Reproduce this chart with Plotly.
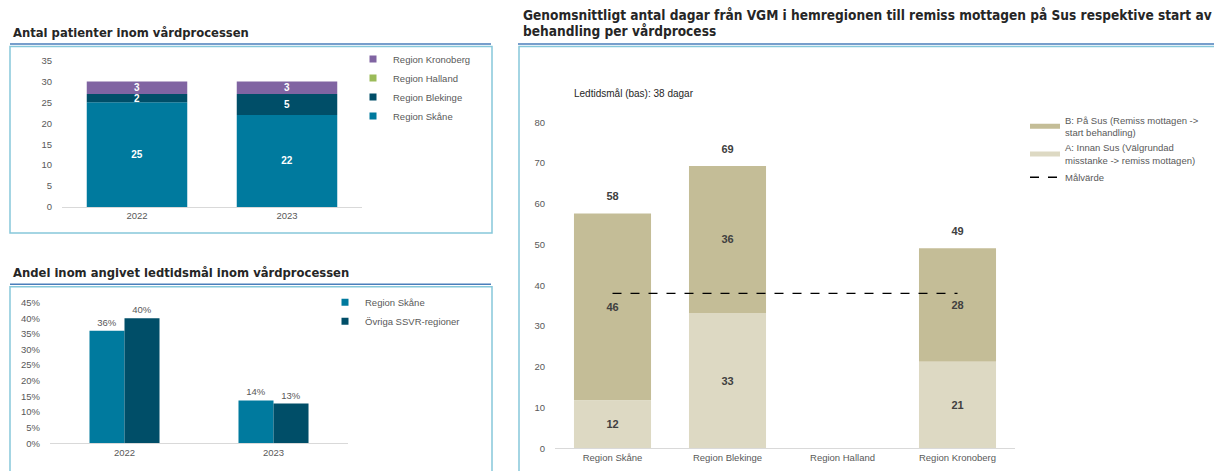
import plotly.graph_objects as go

# ---------------- data ----------------
years = ["2022", "2023"]
pat_skane = [25, 22]
pat_blekinge = [2, 5]
pat_halland = [0, 0]
pat_kronoberg = [3, 3]

share_skane = [0.36, 0.137]
share_ovriga = [0.40, 0.127]

regions = ["Region Skåne", "Region Blekinge", "Region Halland", "Region Kronoberg"]
days_a = [11.7, 33.2, None, 21.2]   # A: Innan Sus
days_b = [45.9, 36.1, None, 27.9]   # B: På Sus
target_days = 38

W, H = 1214, 471
# screen-pixel -> paper helpers (vertical term corrects the viewer's small squeeze)
def px(x): return x / W
def py(y): return 1 - ((y - 4.3) / 0.98) / H

C_SKANE = "#007A9E"
C_BLEK = "#004E68"
C_HALL = "#9BBB59"
C_KRON = "#8064A2"
C_B = "#C4BD97"
C_A = "#DDD9C3"
BOX = "#86C8DA"
ULINE = "#4A7EBB"
TICK = "#595959"
FONT = "Liberation Sans, Arial, sans-serif"
TFONT = "DejaVu Sans, Verdana, sans-serif"
NFONT = "Liberation Sans Narrow, DejaVu Sans Condensed, sans-serif"

fig = go.Figure()

def legend_square(name, color, legend):
    fig.add_trace(go.Scatter(x=[None], y=[None], mode="markers", name=name,
                             marker=dict(symbol="square", size=7, color=color),
                             legend=legend, hoverinfo="skip"))

# ---------- chart 1: stacked patients ----------
stack_series = [("Region Skåne", pat_skane, C_SKANE),
                ("Region Blekinge", pat_blekinge, C_BLEK),
                ("Region Halland", pat_halland, C_HALL),
                ("Region Kronoberg", pat_kronoberg, C_KRON)]
base = [0] * len(years)
for name, vals, col in stack_series:
    fig.add_trace(go.Bar(
        x=years, y=vals, base=list(base), name=name, marker_color=col,
        marker_line_width=0, width=0.67, offset=-0.335,
        text=[str(v) if v else "" for v in vals], textposition="inside",
        insidetextanchor="middle", constraintext="none", textangle=0,
        textfont=dict(family=FONT, size=10, color="white", weight="bold"),
        xaxis="x", yaxis="y", showlegend=False, hoverinfo="skip"))
    base = [b + v for b, v in zip(base, vals)]
for name, vals, col in reversed(stack_series):
    legend_square(name, col, "legend")

# ---------- chart 2: grouped share ----------
fig.add_trace(go.Bar(
    x=years, y=share_skane, name="Region Skåne", marker_color=C_SKANE,
    marker_line_width=0, width=0.235, offset=-0.235,
    texttemplate="%{y:.0%}", textposition="outside", cliponaxis=False, textangle=0,
    textfont=dict(family=FONT, size=9.5, color=TICK),
    xaxis="x2", yaxis="y2", showlegend=False, hoverinfo="skip"))
fig.add_trace(go.Bar(
    x=years, y=share_ovriga, name="Övriga SSVR-regioner", marker_color=C_BLEK,
    marker_line_width=0, width=0.235, offset=0,
    texttemplate="%{y:.0%}", textposition="outside", cliponaxis=False, textangle=0,
    textfont=dict(family=FONT, size=9.5, color=TICK),
    xaxis="x2", yaxis="y2", showlegend=False, hoverinfo="skip"))
legend_square("Region Skåne", C_SKANE, "legend2")
legend_square("Övriga SSVR-regioner", C_BLEK, "legend2")

# ---------- chart 3: stacked days ----------
lab = lambda arr: ["" if v is None else f"{v:.0f}" for v in arr]
name_b = "B: På Sus (Remiss mottagen -><br>start behandling)"
name_a = "A: Innan Sus (Välgrundad<br>misstanke -> remiss mottagen)"
fig.add_trace(go.Bar(
    x=regions, y=days_b, base=days_a, name=name_b,
    marker_color=C_B, marker_line_width=0, width=0.67, offset=-0.335,
    text=lab(days_b), textposition="inside", insidetextanchor="middle",
    constraintext="none", textangle=0,
    textfont=dict(family=FONT, size=11, color="#404040", weight="bold"),
    xaxis="x3", yaxis="y3", showlegend=False, hoverinfo="skip"))
fig.add_trace(go.Bar(
    x=regions, y=days_a, name=name_a,
    marker_color=C_A, marker_line_width=0, width=0.67, offset=-0.335,
    text=lab(days_a), textposition="inside", insidetextanchor="middle",
    constraintext="none", textangle=0,
    textfont=dict(family=FONT, size=11, color="#404040", weight="bold"),
    xaxis="x3", yaxis="y3", showlegend=False, hoverinfo="skip"))
totals = [None if a is None else a + b for a, b in zip(days_a, days_b)]
fig.add_trace(go.Scatter(
    x=regions, y=totals, mode="markers+text", text=lab(totals),
    textposition="top center", marker=dict(size=15, opacity=0),
    textfont=dict(family=FONT, size=11, color="#404040", weight="bold"),
    showlegend=False, cliponaxis=False, xaxis="x3", yaxis="y3", hoverinfo="skip"))
fig.add_trace(go.Scatter(x=[None], y=[None], mode="lines", name=name_b,
                         line=dict(color=C_B, width=5), legend="legend3", hoverinfo="skip"))
fig.add_trace(go.Scatter(x=[None], y=[None], mode="lines", name=name_a,
                         line=dict(color=C_A, width=5), legend="legend3", hoverinfo="skip"))
fig.add_trace(go.Scatter(
    x=regions, y=[target_days] * len(regions), mode="lines", name="Målvärde",
    line=dict(color="black", width=1.3, dash="dash"),
    xaxis="x3", yaxis="y3", legend="legend3", hoverinfo="skip"))

tickfont = dict(family=FONT, size=9.5, color=TICK)
common_x = dict(type="category", showgrid=False, showline=True, linecolor="#D9D9D9",
                linewidth=1, ticks="", tickfont=tickfont, fixedrange=True)
common_y = dict(showgrid=False, showline=False, zeroline=False, ticks="",
                tickfont=tickfont, fixedrange=True, ticklabelstandoff=9)

legend_common = dict(xanchor="left", yanchor="top", bgcolor="rgba(0,0,0,0)",
                     font=dict(family=FONT, size=9.5, color=TICK), traceorder="normal",
                     itemclick=False, itemdoubleclick=False)

fig.update_layout(
    width=W, height=H, margin=dict(l=0, r=0, t=0, b=0),
    paper_bgcolor="white", plot_bgcolor="white", barmode="overlay",
    xaxis=dict(common_x, domain=[px(62), px(362)], anchor="y"),
    yaxis=dict(common_y, domain=[py(206), py(59)], range=[0, 35], dtick=5, anchor="x"),
    xaxis2=dict(common_x, domain=[px(50), px(348)], anchor="y2"),
    yaxis2=dict(common_y, domain=[py(443), py(302)], range=[0, 0.45], dtick=0.05,
                tickformat=".0%", anchor="x2"),
    xaxis3=dict(common_x, domain=[px(555), px(1015)], anchor="y3"),
    yaxis3=dict(common_y, domain=[py(448), py(121)], range=[0, 80], dtick=10, anchor="x3"),
    legend=dict(legend_common, x=px(353), y=py(43)),
    legend2=dict(legend_common, x=px(325), y=py(287)),
    legend3=dict(legend_common, x=px(1025), y=py(106), itemwidth=30),
    showlegend=True,
)

# frames / underlines
shapes = []
def rect(x0, y0, x1, y1):
    shapes.append(dict(type="rect", xref="paper", yref="paper", x0=px(x0), x1=px(x1),
                       y0=py(y1), y1=py(y0), line=dict(color=BOX, width=1.5),
                       fillcolor="rgba(0,0,0,0)", layer="below"))
def uline(x0, x1, y):
    shapes.append(dict(type="line", xref="paper", yref="paper", x0=px(x0), x1=px(x1),
                       y0=py(y), y1=py(y), line=dict(color=ULINE, width=1.5)))
rect(10, 45, 492, 232)
rect(10, 286, 492, 480)
rect(519, 45, 1222, 480)
uline(10, 491, 42.5)
uline(10, 491, 283.5)
uline(518, 1214, 42.5)
fig.update_layout(shapes=shapes)

ann = [
    dict(text="<b>Antal patienter inom vårdprocessen</b>", x=px(11), y=py(31),
         xanchor="left", yanchor="middle", font=dict(family=TFONT, size=11.6, color="#262626")),
    dict(text="<b>Andel inom angivet ledtidsmål inom vårdprocessen</b>", x=px(11), y=py(272),
         xanchor="left", yanchor="middle", font=dict(family=TFONT, size=11.6, color="#262626")),
    dict(text="<b>Genomsnittligt antal dagar från VGM i hemregionen till remiss mottagen på Sus respektive start av</b>",
         x=px(521), y=py(13), xanchor="left", yanchor="middle",
         font=dict(family=NFONT, size=13.6, color="#262626")),
    dict(text="<b>behandling per vårdprocess</b>",
         x=px(521), y=py(29), xanchor="left", yanchor="middle",
         font=dict(family=NFONT, size=13.6, color="#262626")),
    dict(text="Ledtidsmål (bas): 38 dagar", x=px(572), y=py(92), xanchor="left", yanchor="middle",
         font=dict(family=FONT, size=10, color="#262626")),
]
for a in ann:
    a.update(xref="paper", yref="paper", showarrow=False)
fig.update_layout(annotations=ann)

post = ("document.documentElement.style.margin='0';document.body.style.margin='0';"
        "document.body.style.padding='0';document.body.style.overflow='hidden';"
        "var gd=document.getElementById('{plot_id}');gd.style.position='absolute';"
        "gd.style.top='0px';gd.style.left='0px';")
fig.write_html("out.html", config={"displayModeBar": False}, post_script=post)
